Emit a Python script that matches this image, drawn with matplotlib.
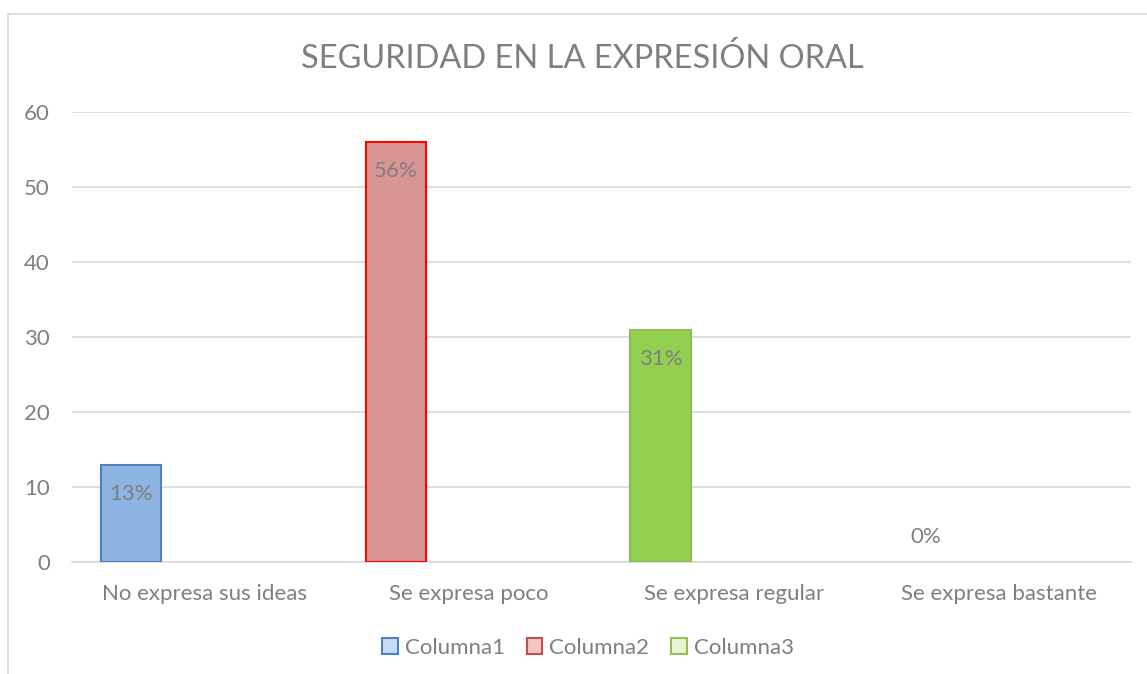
import matplotlib.pyplot as plt
from matplotlib.patches import Patch, Rectangle

# ---------------------------------
# Chart data
# ---------------------------------
categories = ["No expresa sus ideas", "Se expresa poco",
              "Se expresa regular", "Se expresa bastante"]
values = [13, 56, 31, 0]
value_labels = ["13%", "56%", "31%", "0%"]
legend_names = ["Columna1", "Columna2", "Columna3"]

bar_fills = ["#8DB4E2", "#D99594", "#92D050", "none"]
bar_edges = ["#4F81BD", "#FF0000", "#8FBC5A", "none"]
legend_fills = ["#C9DAF5", "#F4C6C6", "#E6F6D4"]
legend_edges = ["#4F81BD", "#C0504D", "#9BBB59"]

text_gray = "#7F7F7F"
plt.rcParams["font.family"] = ["Lato", "DejaVu Sans"]

fig = plt.figure(figsize=(11.47, 6.74), dpi=100)
ax = fig.add_axes([72 / 1147, 112 / 674, (1131 - 72) / 1147, 450 / 674])

# bars sit in the left slot of each category group
offset = -0.277
width = 0.227
x = [i + offset for i in range(len(categories))]
bars = ax.bar(x, values, width=width, color=bar_fills,
              edgecolor=bar_edges, linewidth=1.5, zorder=3)

for xi, v, lab in zip(x, values, value_labels):
    dy = -21 if v > 0 else 18
    ax.annotate(lab, (xi, v), xytext=(0, dy), textcoords="offset points",
                ha="center", va="center", fontsize=16, color=text_gray,
                zorder=4)

ax.set_xlim(-0.5, len(categories) - 0.5)
ax.set_ylim(0, 60)
ax.set_yticks(range(0, 61, 10))
ax.set_xticks(range(len(categories)))
ax.set_xticklabels(categories)
ax.tick_params(axis="both", length=0, labelsize=16, colors=text_gray)
ax.tick_params(axis="x", pad=16)
ax.tick_params(axis="y", pad=16)
ax.grid(axis="y", color="#D9D9D9", linewidth=1.2, zorder=0)
for side in ["top", "right", "left"]:
    ax.spines[side].set_visible(False)
ax.spines["bottom"].set_color("#D9D9D9")
ax.spines["bottom"].set_linewidth(1.2)

fig.text(582 / 1147, 1 - 58 / 674, "SEGURIDAD EN LA EXPRESIÓN ORAL",
         ha="center", va="center", fontsize=23.4, color=text_gray)

handles = [Patch(facecolor=f, edgecolor=e, linewidth=1.5)
           for f, e in zip(legend_fills, legend_edges)]
fig.legend(handles, legend_names, loc="center", ncol=3,
           bbox_to_anchor=(588 / 1147, 1 - 648 / 674), frameon=False,
           fontsize=16, labelcolor=text_gray, handlelength=0.7,
           handleheight=0.7, handletextpad=0.3, columnspacing=1.0)

# chart border (left and top edges visible)
fig.add_artist(Rectangle((8 / 1147, -0.05), 1.2, 1 - 14 / 674 + 0.05,
                         transform=fig.transFigure, fill=False,
                         edgecolor="#D9D9D9", linewidth=1.2))

fig.savefig("out.png", dpi=100)
